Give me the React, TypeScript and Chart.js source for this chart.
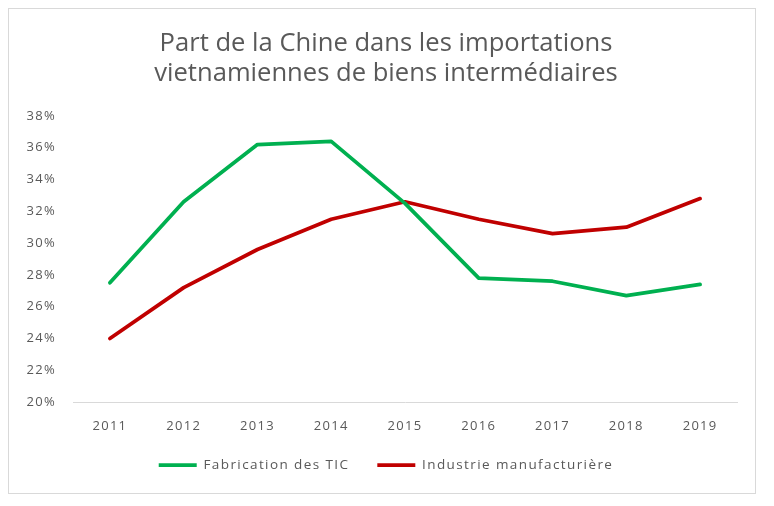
import React, { useEffect, useRef } from "react";
import { Chart, registerables } from "chart.js";

Chart.register(...registerables);

const years = ["2011", "2012", "2013", "2014", "2015", "2016", "2017", "2018", "2019"];
const ticSeries = [27.5, 32.6, 36.2, 36.4, 32.5, 27.8, 27.6, 26.7, 27.4];
const manufSeries = [24.0, 27.2, 29.6, 31.5, 32.6, 31.5, 30.6, 31.0, 32.8];
const seriesNames = ["Fabrication des TIC", "Industrie manufacturière"];
const titleLines = ["Part de la Chine dans les importations", "vietnamiennes de biens intermédiaires"];

function wrapSpacing(obj: any, name: string, spacing: string) {
  const key = "__ls_" + name;
  if (!obj || obj[key]) return;
  const orig = obj[name];
  obj[name] = function (...args: any[]) {
    const ctx = this.ctx as any;
    const prev = ctx.letterSpacing;
    ctx.letterSpacing = spacing;
    try {
      return orig.apply(this, args);
    } finally {
      ctx.letterSpacing = prev || "0px";
    }
  };
  obj[key] = true;
}

const letterSpacingPlugin = {
  id: "letterSpacingPlugin",
  beforeLayout(chart: any) {
    wrapSpacing(chart.legend, "fit", "1.4px");
    wrapSpacing(chart.legend, "draw", "1.4px");
    ["x", "y"].forEach((id) => {
      const s = chart.scales[id];
      if (!s) return;
      wrapSpacing(s, "drawLabels", "1.3px");
      s._computeLabelArea = () => undefined;
    });
  },
};

export default function App() {
  const ref = useRef<HTMLCanvasElement | null>(null);
  useEffect(() => {
    if (!ref.current) return;
    Chart.defaults.font.family = "'Open Sans', sans-serif";
    Chart.defaults.color = "#595959";
    const chart = new Chart(ref.current, {
      type: "line",
      plugins: [letterSpacingPlugin],
      data: {
        labels: years,
        datasets: [
          {
            label: seriesNames[0],
            data: ticSeries,
            borderColor: "#00B050",
            backgroundColor: "#00B050",
            borderWidth: 3.75,
            pointRadius: 0,
            pointStyle: "line",
            tension: 0,
            borderCapStyle: "round",
            borderJoinStyle: "round",
          },
          {
            label: seriesNames[1],
            data: manufSeries,
            borderColor: "#C00000",
            backgroundColor: "#C00000",
            borderWidth: 3.75,
            pointRadius: 0,
            pointStyle: "line",
            tension: 0,
            borderCapStyle: "round",
            borderJoinStyle: "round",
          },
        ],
      },
      options: {
        animation: false,
        responsive: true,
        maintainAspectRatio: false,
        layout: { padding: { left: 26, right: 18, top: 0, bottom: 11.25 } },
        plugins: {
          title: {
            display: true,
            text: titleLines,
            color: "#595959",
            font: { size: 25.6, weight: "normal", lineHeight: 1.2 },
            padding: { top: 19, bottom: 26.56 },
          },
          legend: {
            position: "bottom",
            labels: {
              usePointStyle: true,
              pointStyle: "line",
              pointStyleWidth: 38,
              padding: 28,
              color: "#595959",
              font: { size: 13.5 },
            },
          },
          tooltip: { enabled: false },
        },
        scales: {
          x: {
            offset: true,
            grid: { display: false, drawTicks: false, offset: true },
            border: { display: true, color: "#d9d9d9", width: 1 },
            ticks: { padding: 16, font: { size: 13 }, color: "#595959", maxRotation: 0 },
            afterFit: (s: any) => {
              s.height = 28.25;
            },
          },
          y: {
            min: 20,
            max: 38,
            grid: { display: false, drawTicks: false },
            border: { display: false },
            ticks: {
              stepSize: 2,
              padding: 17,
              font: { size: 13 },
              color: "#595959",
              callback: (v: any) => v + "%",
            },
            afterFit: (s: any) => {
              s.width = 38;
            },
          },
        },
      },
    });
    return () => chart.destroy();
  }, []);
  return (
    <div
      style={{
        width: 748,
        height: 486,
        border: "1px solid #d9d9d9",
        boxSizing: "border-box",
        position: "relative",
        background: "#fff",
      }}
    >
      <canvas ref={ref} />
    </div>
  );
}
